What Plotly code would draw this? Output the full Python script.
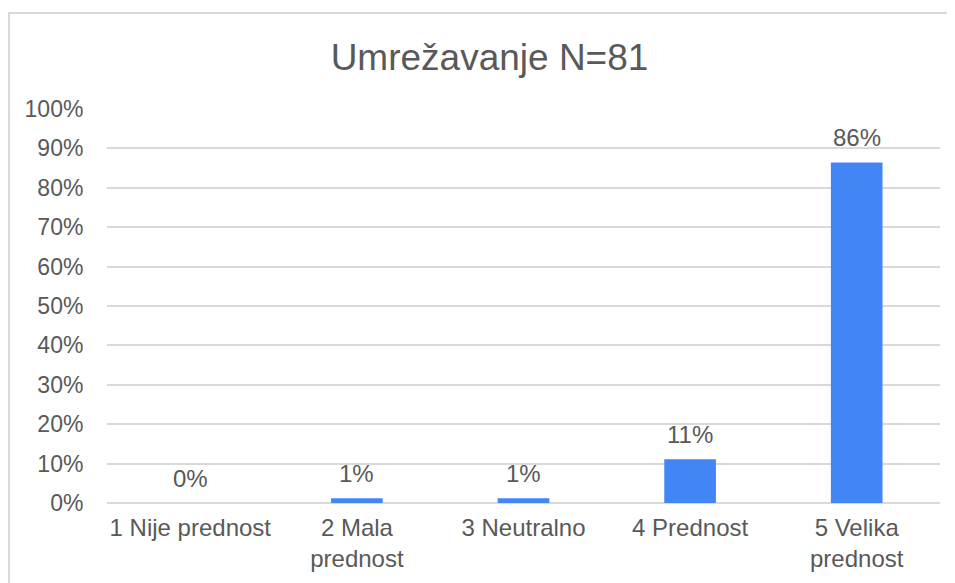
import plotly.graph_objects as go

categories = ["1 Nije prednost", "2 Mala<br>prednost", "3 Neutralno", "4 Prednost", "5 Velika<br>prednost"]
values = [0.0, 1.2, 1.2, 11.1, 86.4]
labels = ["0%", "1%", "1%", "11%", "86%"]
tick_vals = [0, 10, 20, 30, 40, 50, 60, 70, 80, 90, 100]
tick_text = ["0%", "10%", "20%", "30%", "40%", "50%", "60%", "70%", "80%", "90%", "100%"]

FONT = "Liberation Sans, Arial, sans-serif"
TXT = "#595959"

fig = go.Figure()
fig.add_trace(go.Bar(x=categories, y=values, marker=dict(color="#4285F4", line=dict(width=0)),
                     hoverinfo="skip"))

for c, v, t in zip(categories, values, labels):
    fig.add_annotation(x=c, y=v, text=t, showarrow=False, yanchor="middle", yshift=25,
                       font=dict(family=FONT, size=24, color=TXT))

L, R, T, B = 99, 23, 101, 88
W, H = 955, 583
pw, ph = W - L - R, H - T - B

fig.update_layout(
    width=W, height=H,
    margin=dict(l=L, r=R, t=T, b=B),
    paper_bgcolor="white", plot_bgcolor="white",
    bargap=0.69,
    showlegend=False,
    title=dict(text="Umrežavanje N=81", x=481.5 / W, xanchor="center", y=1 - 49 / H,
               yanchor="middle", yref="container", font=dict(family=FONT, size=37, color=TXT)),
    xaxis=dict(showgrid=False, showline=False, zeroline=False, ticks="outside", ticklen=3,
               tickcolor="rgba(0,0,0,0)",
               tickfont=dict(family=FONT, size=24, color=TXT), fixedrange=True),
    yaxis=dict(range=[0, 100], tickvals=tick_vals, ticktext=tick_text, showgrid=True,
               gridcolor="#d9d9d9", gridwidth=1.5, zeroline=True, zerolinecolor="#d9d9d9",
               zerolinewidth=1.5, showline=False, ticks="outside", ticklen=18,
               tickcolor="rgba(0,0,0,0)", tickfont=dict(family=FONT, size=23, color=TXT),
               fixedrange=True),
    shapes=[dict(type="line", xref="paper", yref="paper", x0=-L / pw, x1=1.2, y0=1 + (T - 5) / ph,
                 y1=1 + (T - 5) / ph, line=dict(color="#d9d9d9", width=2)),
            dict(type="line", xref="paper", yref="paper", x0=-L / pw + 1 / pw, x1=-L / pw + 1 / pw,
                 y0=1 + (T - 5) / ph, y1=-0.3, line=dict(color="#d9d9d9", width=2))],
)

fig.write_html("out.html")
